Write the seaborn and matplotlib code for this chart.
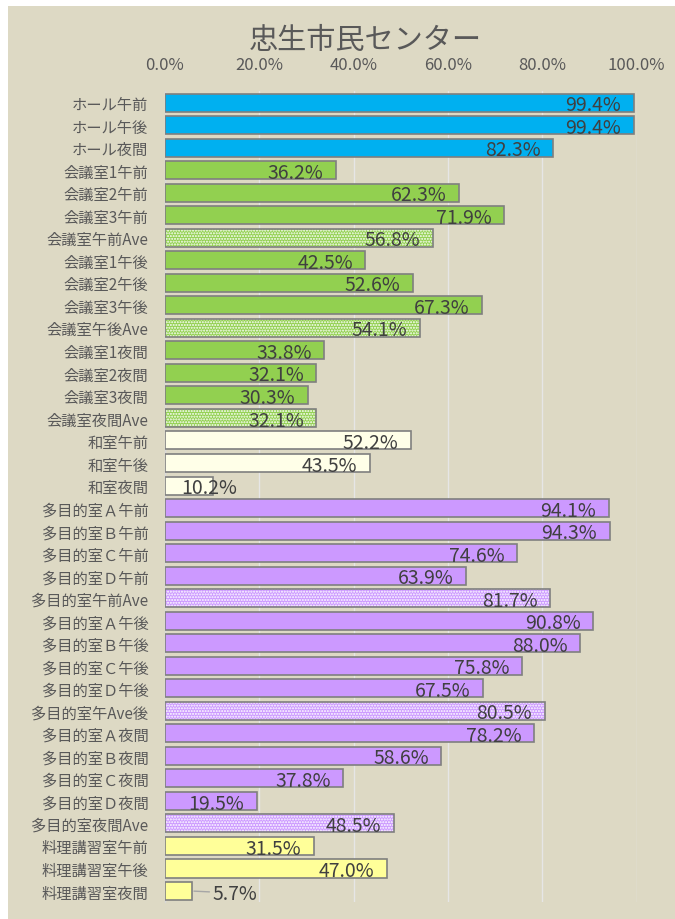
import matplotlib
matplotlib.use("Agg")
import matplotlib.pyplot as plt
import seaborn as sns
import pandas as pd
from matplotlib.patches import Rectangle

categories = ['ホール午前', 'ホール午後', 'ホール夜間',
              '会議室1午前', '会議室2午前', '会議室3午前', '会議室午前Ave',
              '会議室1午後', '会議室2午後', '会議室3午後', '会議室午後Ave',
              '会議室1夜間', '会議室2夜間', '会議室3夜間', '会議室夜間Ave',
              '和室午前', '和室午後', '和室夜間',
              '多目的室Ａ午前', '多目的室Ｂ午前', '多目的室Ｃ午前', '多目的室Ｄ午前', '多目的室午前Ave',
              '多目的室Ａ午後', '多目的室Ｂ午後', '多目的室Ｃ午後', '多目的室Ｄ午後', '多目的室午Ave後',
              '多目的室Ａ夜間', '多目的室Ｂ夜間', '多目的室Ｃ夜間', '多目的室Ｄ夜間', '多目的室夜間Ave',
              '料理講習室午前', '料理講習室午後', '料理講習室夜間']
values = [99.4, 99.4, 82.3,
          36.2, 62.3, 71.9, 56.8,
          42.5, 52.6, 67.3, 54.1,
          33.8, 32.1, 30.3, 32.1,
          52.2, 43.5, 10.2,
          94.1, 94.3, 74.6, 63.9, 81.7,
          90.8, 88.0, 75.8, 67.5, 80.5,
          78.2, 58.6, 37.8, 19.5, 48.5,
          31.5, 47.0, 5.7]
groups = (['ホール'] * 3 + ['会議室'] * 12 + ['和室'] * 3 +
          ['多目的室'] * 15 + ['料理講習室'] * 3)
group_colors = {'ホール': '#00B0F0', '会議室': '#92D050', '和室': '#FFFFE8',
                '多目的室': '#CC99FF', '料理講習室': '#FFFF99'}
tick_values = [0, 20, 40, 60, 80, 100]
tick_labels = ['0.0%', '20.0%', '40.0%', '60.0%', '80.0%', '100.0%']
title = '忠生市民センター'

bg = '#DDD9C4'
sns.set_theme(style='white')
plt.rcParams['font.family'] = ['Noto Sans CJK JP', 'DejaVu Sans']
plt.rcParams['hatch.linewidth'] = 1.0

df = pd.DataFrame({'cat': categories, 'val': values, 'grp': groups})

fig = plt.figure(figsize=(6.75, 9.2), dpi=100)
fig.patch.set_facecolor('white')
fig.patches.append(Rectangle((8 / 675, 0), 1, 1 - 7 / 920, transform=fig.transFigure,
                             facecolor=bg, edgecolor='none', zorder=-10))
ax = fig.add_axes([165 / 675, (920 - 903.3) / 920, 471.5 / 675, 811 / 920])
ax.set_facecolor(bg)

sns.barplot(data=df, y='cat', x='val', hue='grp', palette=group_colors,
            dodge=False, legend=False, width=0.8, order=categories, saturation=1,
            edgecolor='#7F7F7F', linewidth=1.2, ax=ax, zorder=3)

for p in list(ax.patches):
    idx = int(round(p.get_y() + p.get_height() / 2))
    if 'Ave' in categories[idx]:
        p.set_edgecolor('white')
        p.set_linewidth(0)
        p.set_hatch('......')
        ax.add_patch(Rectangle(p.get_xy(), p.get_width(), p.get_height(),
                               fill=False, edgecolor='#7F7F7F', linewidth=1.2, zorder=4))

for i, v in enumerate(values):
    lab = f'{v:.1f}%'
    if v >= 15:
        ax.annotate(lab, (v, i), xytext=(-9, -1.5), textcoords='offset points',
                    ha='right', va='center', fontsize=14, color='#404040', zorder=5)
    elif v >= 8:
        ax.annotate(lab, (v, i), xytext=(-3, -1.5), textcoords='offset points',
                    ha='center', va='center', fontsize=14, color='#404040', zorder=5)
    else:
        ax.annotate(lab, (v, i), xytext=(15, -1.5), textcoords='offset points',
                    ha='left', va='center', fontsize=14, color='#404040', zorder=5,
                    arrowprops=dict(arrowstyle='-', color='#A6A6A6', lw=1,
                                    shrinkA=0, shrinkB=1.5))

ax.set_xlim(0, 100)
ax.set_ylim(len(categories) - 0.5, -0.5)
ax.xaxis.tick_top()
ax.set_xticks(tick_values)
ax.set_xticklabels(tick_labels)
ax.tick_params(axis='x', length=0, pad=13, labelsize=12, labelcolor='#595959')
ax.tick_params(axis='y', length=0, pad=12, labelsize=11, labelcolor='#595959')
ax.set_xlabel('')
ax.set_ylabel('')
ax.grid(axis='x', color='#E6E6E6', linewidth=1, zorder=0)
ax.set_axisbelow(True)
for s in ['top', 'right', 'bottom']:
    ax.spines[s].set_visible(False)
ax.spines['left'].set_color('#D9D9D9')
ax.spines['left'].set_linewidth(1)

fig.text(365 / 675, 1 - 41 / 920, title, ha='center', va='center',
         fontsize=21, color='#595959')

fig.savefig('out.png', dpi=100, facecolor=fig.get_facecolor())
